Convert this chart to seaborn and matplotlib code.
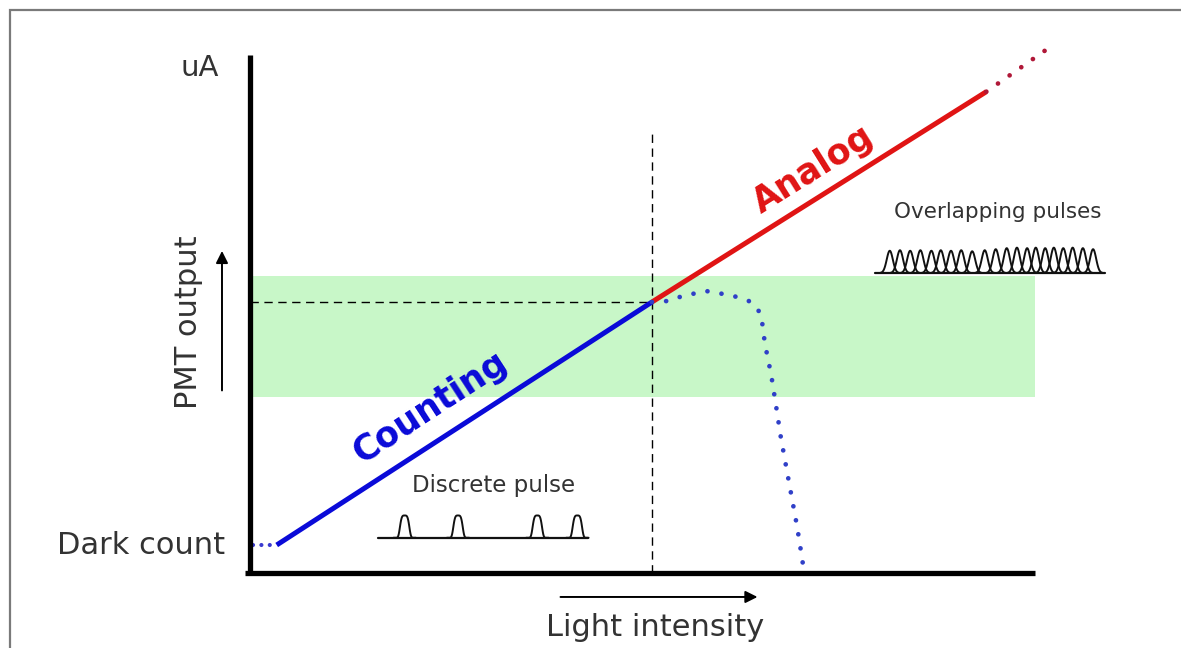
import numpy as np
import pandas as pd
import matplotlib
matplotlib.use("Agg")
import matplotlib.pyplot as plt
from matplotlib.patches import Rectangle
import seaborn as sns

# Curve data in chart units (light intensity 0-100, PMT output 0-100)
dark_x = [0.4, 3.4]
dark_y = [5.4, 5.4]
counting_x = [3.4, 51.2]
counting_y = [5.4, 52.3]
analog_x = [51.2, 93.8]
analog_y = [52.3, 92.9]
analog_ext_x = [93.8, 101.9]
analog_ext_y = [92.9, 101.5]
sat_x = [51.2, 53.2, 55.2, 57.1, 58.2, 60.1, 62.0, 63.9, 65.1, 65.6, 66.4,
         67.0, 67.6, 68.3, 69.0, 69.7, 70.3, 70.6]
sat_y = [52.3, 52.5, 53.5, 54.1, 54.4, 53.9, 53.3, 52.3, 50.0, 44.2, 38.2,
         32.4, 26.4, 20.5, 14.7, 8.9, 3.1, 0.0]
crossover = (51.2, 52.3)
band = (34.0, 57.3)

# pulse glyphs
discrete_base = (16.3, 43.1, 6.8)
discrete_centers = [19.7, 26.5, 36.6, 41.7]
discrete_heights = [4.3, 4.3, 4.3, 4.3]
overlap_base = (79.6, 108.9, 57.9)
overlap_centers = [81.5, 82.8, 84.1, 85.4, 86.8, 88.0, 89.3, 90.6, 92.0, 93.6,
                   95.0, 96.4, 97.7, 99.0, 100.1, 101.3, 102.4, 103.6, 104.8,
                   106.1, 107.4]
overlap_heights = [4.3, 4.4, 4.3, 4.4, 4.3, 4.4, 4.3, 4.4, 4.2, 4.4, 4.6,
                   4.8, 4.9, 4.8, 4.9, 4.8, 4.9, 4.8, 4.9, 4.8, 4.6]

BLUE = "#0a0ad8"
RED = "#e01414"
TXT = "#333333"

sns.set_theme(style="white")
plt.rcParams['font.family'] = ['DejaVu Sans']

fig = plt.figure(figsize=(11.81, 6.48), dpi=100)
ax = fig.add_axes([0, 0, 1, 1])
ax.set_xlim(-31.85, 118.6)
ax.set_ylim(-14.48, 110.6)
ax.axis('off')

# outer frame
fig.patches.append(Rectangle((10 / 1181, -0.2), 1.2, 1.2 - 10 / 648,
                             transform=fig.transFigure, fill=False,
                             edgecolor="#7a7a7a", lw=1.6))

# green band
ax.fill_between([0, 100], band[0], band[1], color="#c8f7c8", lw=0, zorder=1)

# axes lines
ax.plot([0, 0], [-0.4, 100], color="black", lw=3.8, solid_capstyle='butt', zorder=5)
ax.plot([-0.6, 100], [0, 0], color="black", lw=3.8, solid_capstyle='butt', zorder=5)

# guide lines
ax.plot([0, crossover[0]], [crossover[1], crossover[1]], color="black", lw=1.0,
        ls=(0, (6, 4)), zorder=2)
ax.plot([crossover[0], crossover[0]], [0, 85.5], color="black", lw=1.0,
        ls=(0, (6, 4)), zorder=2)

dots = (0, (0.01, 3.0))
df_c = pd.DataFrame({"x": counting_x, "y": counting_y})
df_a = pd.DataFrame({"x": analog_x, "y": analog_y})
df_s = pd.DataFrame({"x": sat_x, "y": sat_y})
sns.lineplot(data=df_c, x="x", y="y", ax=ax, color=BLUE, lw=3.6, zorder=4,
             solid_capstyle='butt')
sns.lineplot(data=df_a, x="x", y="y", ax=ax, color=RED, lw=3.6, zorder=4,
             solid_capstyle='butt')
ax.plot(dark_x, dark_y, color="#3a3ad0", lw=3.0, ls=(0, (0.01, 2.0)),
        dash_capstyle='round', zorder=4)
ax.plot(analog_ext_x, analog_ext_y, color="#b01838", lw=3.4, ls=dots,
        dash_capstyle='round', zorder=4)
sns.lineplot(data=df_s, x="x", y="y", ax=ax, sort=False, color="#3040c8", lw=3.4,
             ls=dots, dash_capstyle='round', zorder=6)


def draw_pulses(base, centers, heights, w, p):
    ax.plot([base[0], base[1]], [base[2], base[2]], color="#111111", lw=1.6, zorder=3)
    for c, h in zip(centers, heights):
        xs = np.linspace(c - 2.2 * w, c + 2.2 * w, 60)
        ys = base[2] + h * np.exp(-np.abs((xs - c) / w) ** p)
        ax.plot(xs, ys, color="#111111", lw=1.4, zorder=3)


draw_pulses(discrete_base, discrete_centers, discrete_heights, 0.65, 4)
draw_pulses(overlap_base, overlap_centers, overlap_heights, 0.55, 2)

# arrows
ax.annotate("", xy=(-3.57, 62.7), xytext=(-3.57, 34.7),
            arrowprops=dict(arrowstyle="-|>", color="black", lw=1.4,
                            mutation_scale=18))
ax.annotate("", xy=(65.0, -4.63), xytext=(39.2, -4.63),
            arrowprops=dict(arrowstyle="-|>", color="black", lw=1.4,
                            mutation_scale=18))

# labels
ax.text(-6.4, 97.5, "uA", fontsize=21, color=TXT, ha='center', va='center')
ax.text(-3.2, 5.4, "Dark count", fontsize=22, color=TXT, ha='right', va='center')
ax.text(-7.9, 48.5, "PMT output", fontsize=22, color=TXT, ha='center', va='center',
        rotation=90)
ax.text(51.6, -10.6, "Light intensity", fontsize=22, color=TXT, ha='center',
        va='center')
ax.text(22.9, 32.0, "Counting", fontsize=25, color=BLUE, fontweight='bold',
        ha='center', va='center', rotation=33, rotation_mode='anchor')
ax.text(71.7, 77.8, "Analog", fontsize=25, color=RED, fontweight='bold',
        ha='center', va='center', rotation=32, rotation_mode='anchor')
ax.text(31.0, 16.8, "Discrete pulse", fontsize=16.5, color=TXT, ha='center',
        va='center')
ax.text(95.3, 69.7, "Overlapping pulses", fontsize=15.5, color=TXT, ha='center',
        va='center')

fig.savefig("out.png", dpi=100)
